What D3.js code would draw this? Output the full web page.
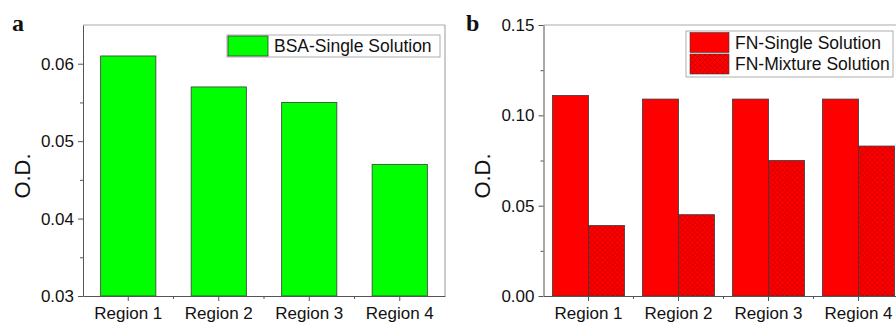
<!DOCTYPE html>
<html>
<head>
<meta charset="utf-8">
<script src="https://cdn.jsdelivr.net/npm/d3@7"></script>
<style>
  body { margin: 0; background: #fff; }
  svg { display: block; }
  text { font-family: "Liberation Sans", Arial, sans-serif; fill: #111; }
  .axis path, .axis line { stroke: #555; }
  .axis text { font-size: 17px; fill: #111; }
  .panel-label { font-family: "Liberation Serif", "DejaVu Serif", serif; font-weight: bold; font-size: 24px; }
</style>
</head>
<body>
<svg id="chart" width="896" height="323"></svg>
<script>
// data
var regions = ['Region 1', 'Region 2', 'Region 3', 'Region 4'];
var bsaSingle = [0.061, 0.057, 0.055, 0.047];
var fnSingle = [0.111, 0.109, 0.109, 0.109];
var fnMixture = [0.039, 0.045, 0.075, 0.083];
var yTicksA = [0.03, 0.04, 0.05, 0.06];
var yMinorA = [0.035, 0.045, 0.055];
var yTicksB = [0.00, 0.05, 0.10, 0.15];
var yMinorB = [0.025, 0.075, 0.125];
var legendA = ['BSA-Single Solution'];
var legendB = ['FN-Single Solution', 'FN-Mixture Solution'];

var svg = d3.select('#chart');

// crosshatch for the mixture bars
var defs = svg.append('defs');
var pat = defs.append('pattern')
  .attr('id', 'hatch')
  .attr('patternUnits', 'userSpaceOnUse')
  .attr('width', 5).attr('height', 5);
pat.append('rect').attr('width', 5).attr('height', 5).attr('fill', '#ff0000');
pat.append('path')
  .attr('d', 'M0,0L5,5M5,0L0,5M-1,4L1,6M4,-1L6,1M4,6L6,4M-1,1L1,-1')
  .attr('stroke', '#a00000').attr('stroke-width', 0.6).attr('opacity', 0.7);

var plotTop = 25, plotBottom = 296;

function drawFrame(g, x0, x1, right) {
  g.append('line').attr('x1', x0).attr('x2', x1).attr('y1', plotTop).attr('y2', plotTop)
    .attr('stroke', '#aaa');
  if (right) {
    g.append('line').attr('x1', x1).attr('x2', x1).attr('y1', plotTop).attr('y2', plotBottom)
      .attr('stroke', '#999');
  }
}

function drawAxes(g, x, y, ticks, minor, left) {
  g.append('g').attr('class', 'axis')
    .attr('transform', 'translate(' + left + ',0)')
    .call(d3.axisLeft(y).tickValues(minor).tickSize(3).tickFormat(''))
    .select('.domain').remove();
  g.append('g').attr('class', 'axis')
    .attr('transform', 'translate(' + left + ',0)')
    .call(d3.axisLeft(y).tickValues(ticks).tickSize(5).tickPadding(4).tickSizeOuter(0).tickFormat(d3.format('.2f')));

  var bounds = regions.slice(1).map(function (r, i) {
    return (x(regions[i]) + x(r)) / 2 + x.bandwidth() / 2;
  });
  g.append('g').attr('class', 'axis')
    .attr('transform', 'translate(0,' + plotBottom + ')')
    .call(d3.axisBottom(x).tickSize(5).tickPadding(6).tickSizeOuter(0));
  g.append('g').attr('class', 'axis')
    .attr('transform', 'translate(0,' + plotBottom + ')')
    .selectAll('line.minor')
    .data(bounds)
    .enter().append('line')
    .attr('x1', function (d) { return d; }).attr('x2', function (d) { return d; })
    .attr('y1', 0).attr('y2', 3);
}

function yLabel(g, cx, cy) {
  g.append('text')
    .attr('transform', 'translate(' + cx + ',' + cy + ') rotate(-90)')
    .attr('text-anchor', 'middle')
    .attr('font-size', 22)
    .text('O.D.');
}

// ---- panel a ----
var gA = svg.append('g');
var leftA = 83, rightA = 445;
var xA = d3.scaleBand().domain(regions).range([leftA, rightA]).paddingInner(0.39).paddingOuter(0.195);
var yA = d3.scaleLinear().domain([0.03, 0.065]).range([plotBottom, plotTop]);

drawFrame(gA, leftA, rightA, true);
gA.selectAll('.bar')
  .data(bsaSingle)
  .enter().append('rect')
  .attr('class', 'bar')
  .attr('x', function (d, i) { return xA(regions[i]); })
  .attr('y', function (d) { return yA(d); })
  .attr('width', xA.bandwidth())
  .attr('height', function (d) { return plotBottom - yA(d); })
  .attr('fill', '#00ff00')
  .attr('stroke', '#3a3a3a').attr('stroke-width', 0.8);
drawAxes(gA, xA, yA, yTicksA, yMinorA, leftA);
yLabel(gA, 30, 176);
gA.append('text').attr('class', 'panel-label').attr('x', 12).attr('y', 31).text('a');

var legA = gA.append('g');
legA.append('rect').attr('x', 227).attr('y', 35).attr('width', 213).attr('height', 22)
  .attr('fill', '#fff').attr('stroke', '#999').attr('stroke-width', 0.8);
legA.selectAll('.sw').data(legendA).enter().append('rect')
  .attr('x', 228).attr('y', 36).attr('width', 40).attr('height', 20)
  .attr('fill', '#00ff00').attr('stroke', '#3a3a3a').attr('stroke-width', 0.8);
legA.selectAll('.lt').data(legendA).enter().append('text')
  .attr('x', 274).attr('y', 52).attr('font-size', 17.5).text(function (d) { return d; });

// ---- panel b ----
var gB = svg.append('g');
var leftB = 543.5, rightB = leftB + 360;
var xB = d3.scaleBand().domain(regions).range([leftB, rightB]).paddingInner(0.2).paddingOuter(0.1);
var xSub = d3.scaleBand().domain(['single', 'mixture']).range([0, xB.bandwidth()]);
var yB = d3.scaleLinear().domain([0, 0.15]).range([plotBottom, plotTop]);

drawFrame(gB, leftB, rightB, false);
var groups = gB.selectAll('.grp')
  .data(regions)
  .enter().append('g')
  .attr('transform', function (d) { return 'translate(' + xB(d) + ',0)'; });
groups.append('rect')
  .attr('x', xSub('single'))
  .attr('y', function (d, i) { return yB(fnSingle[i]); })
  .attr('width', xSub.bandwidth())
  .attr('height', function (d, i) { return plotBottom - yB(fnSingle[i]); })
  .attr('fill', '#ff0000')
  .attr('stroke', '#3a3a3a').attr('stroke-width', 0.8);
groups.append('rect')
  .attr('x', xSub('mixture'))
  .attr('y', function (d, i) { return yB(fnMixture[i]); })
  .attr('width', xSub.bandwidth())
  .attr('height', function (d, i) { return plotBottom - yB(fnMixture[i]); })
  .attr('fill', 'url(#hatch)')
  .attr('stroke', '#3a3a3a').attr('stroke-width', 0.8);
drawAxes(gB, xB, yB, yTicksB, yMinorB, leftB);
yLabel(gB, 490, 176);
gB.append('text').attr('class', 'panel-label').attr('x', 466).attr('y', 31).text('b');

var legB = gB.append('g');
legB.append('rect').attr('x', 686).attr('y', 31).attr('width', 207).attr('height', 46)
  .attr('fill', '#fff').attr('stroke', '#999').attr('stroke-width', 0.8);
legB.selectAll('.sw').data(legendB).enter().append('rect')
  .attr('x', 690).attr('y', function (d, i) { return 32.5 + i * 21.5; })
  .attr('width', 39).attr('height', 20)
  .attr('fill', function (d, i) { return i === 0 ? '#ff0000' : 'url(#hatch)'; })
  .attr('stroke', '#3a3a3a').attr('stroke-width', 0.6);
legB.selectAll('.lt').data(legendB).enter().append('text')
  .attr('x', 735).attr('y', function (d, i) { return 49 + i * 21; })
  .attr('font-size', 17.5).text(function (d) { return d; });
</script>
</body>
</html>
